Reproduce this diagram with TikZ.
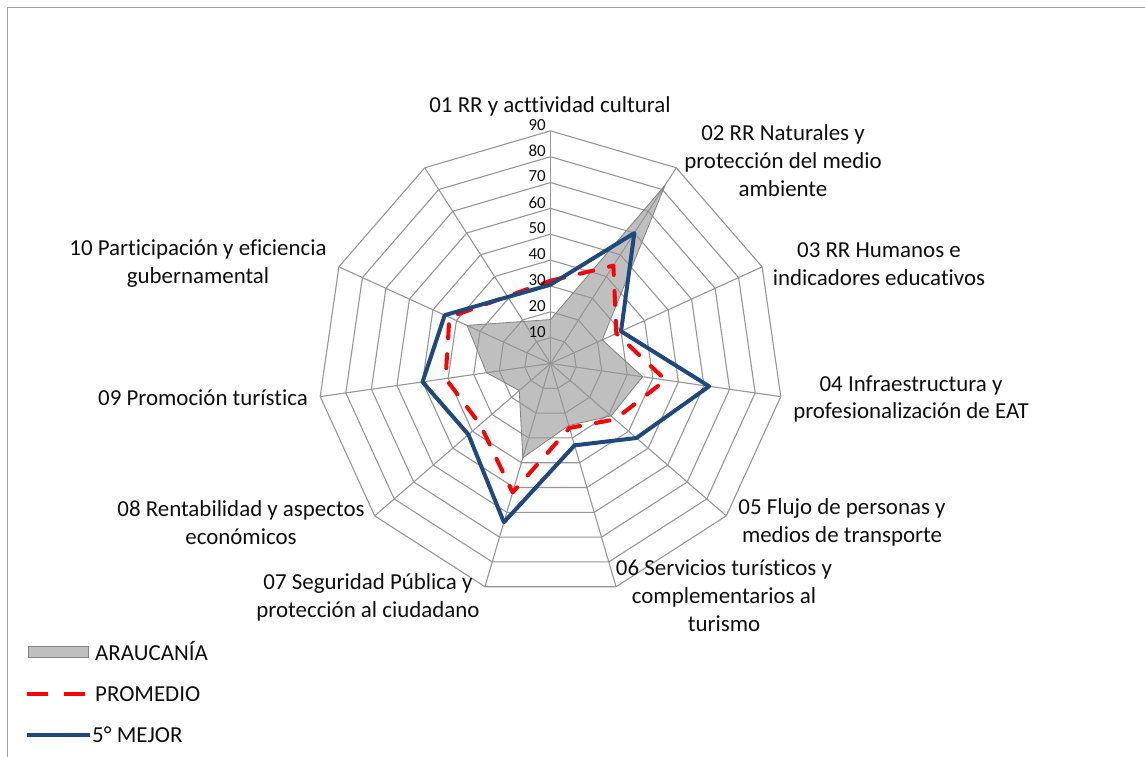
\documentclass[tikz,border=0pt]{standalone}
\usepackage{fontspec}
\setmainfont{Carlito}[Ligatures={NoCommon}]
\usetikzlibrary{calc}
\definecolor{gridc}{RGB}{150,150,150}
\definecolor{grayfill}{RGB}{191,191,191}
\definecolor{grayline}{RGB}{130,130,130}
\definecolor{navy}{RGB}{31,73,125}
\definecolor{borderc}{RGB}{160,160,160}
\definecolor{txt}{RGB}{15,15,15}
\begin{document}
\begin{tikzpicture}[x=1bp,y=-1bp,
  gridline/.style={draw=gridc, line width=1.1bp, line join=miter},
  lab/.style={font=\fontsize{23}{28}\selectfont, text=txt, align=center, inner sep=0pt},
  ticklab/.style={font=\fontsize{17}{18}\selectfont, text=txt, anchor=east, inner sep=0pt},
  areafill/.style={fill=grayfill},
  arealine/.style={draw=grayline, line width=0.8bp, line join=round},
  avgline/.style={draw=red, line width=4bp, dash pattern=on 14bp off 16bp, line cap=round, line join=round},
  bestline/.style={draw=navy, line width=4bp, line join=round},
  legtext/.style={font=\fontsize{23}{28}\selectfont, text=txt, anchor=west, inner sep=0pt}]

\useasboundingbox (0,0) rectangle (1145,757);
\fill[white] (0,0) rectangle (1145,757);
\draw[borderc, line width=1.6bp] (7.5,757) -- (7.5,7.5) -- (1145,7.5);

\coordinate (c) at (550.5,363.5);

% axis end points (11 axes, the 11th unlabeled)
\foreach \k in {1,...,11}
  \coordinate (a\k) at ($(c)+({(\k-1)*360/11-90}:232.65)$);

% series points
\foreach \v [count=\i] in {17,82,22,36,31,25,38,16,25,35.5}
  \coordinate (g\i) at ($(c)+({(\i-1)*360/11-90}:{\v*2.585})$);
\foreach \v [count=\i] in {32,45,28,45,33,26,52,36,41,43}
  \coordinate (r\i) at ($(c)+({(\i-1)*360/11-90}:{\v*2.585})$);
\foreach \v [count=\i] in {30.5,60,30,62,44,33,64,42,50,45}
  \coordinate (b\i) at ($(c)+({(\i-1)*360/11-90}:{\v*2.585})$);

% gray area fill
\fill[areafill] (g1) \foreach \i in {2,...,10}{ -- (g\i)} -- cycle;

% grid rings
\foreach \j in {1,...,9}
  \draw[gridline] ($(c)+(-90:{\j*25.85})$)
    \foreach \k in {2,...,11}{ -- ($(c)+({(\k-1)*360/11-90}:{\j*25.85})$)} -- cycle;
% spokes
\foreach \k in {1,...,11} \draw[gridline] (c) -- (a\k);

% series lines
\draw[arealine] (g1) \foreach \i in {2,...,10}{ -- (g\i)} -- cycle;
\draw[avgline] (r1) \foreach \i in {2,...,10}{ -- (r\i)} -- cycle;
\draw[bestline] (b1) \foreach \i in {2,...,10}{ -- (b\i)} -- cycle;

% tick labels
\foreach \j/\t in {1/10,2/20,3/30,4/40,5/50,6/60,7/70,8/80,9/90}
  \node[ticklab] (t\j) at (546,{363.5-\j*25.85-6}) {\t};

% category labels
\node[lab] (c01) at (550,106) {01 RR y acttividad cultural};
\node[lab] (c02) at (783,161) {02 RR Naturales y\\protección del medio\\ambiente};
\node[lab] (c03) at (879,264) {03 RR Humanos e\\indicadores educativos};
\node[lab] (c04) at (911,399) {04 Infraestructura y\\profesionalización de EAT};
\node[lab] (c05) at (842,522) {05 Flujo de personas y\\medios de transporte};
\node[lab] (c06) at (724,596) {06 Servicios turísticos y\\complementarios al\\turismo};
\node[lab] (c07) at (368,597) {07 Seguridad Pública y\\protección al ciudadano};
\node[lab] (c08) at (241,523) {08 Rentabilidad y aspectos\\económicos};
\node[lab] (c09) at (203,398) {09 Promoción turística};
\node[lab] (c10) at (198,264) {10 Participación y eficiencia\\gubernamental};

% legend
\node[draw=grayline, fill=grayfill, line width=1bp, minimum width=59bp, minimum height=11bp, inner sep=0pt] (s1) at (58.5,651.5) {};
\node[legtext] (l1) at (95,651) {ARAUCANÍA};
\coordinate (p1) at (27,693.5);
\coordinate (p2) at (88,693.5);
\draw[draw=red, line width=4bp, dash pattern=on 21bp off 16bp] (p1) -- (p2);
\node[legtext] (l2) at (95,694) {PROMEDIO};
\coordinate (q1) at (27,735);
\coordinate (q2) at (90,735);
\draw[draw=navy, line width=4bp] (q1) -- (q2);
\node[legtext] (l3) at (92,735) {5° MEJOR};
\end{tikzpicture}
\end{document}
